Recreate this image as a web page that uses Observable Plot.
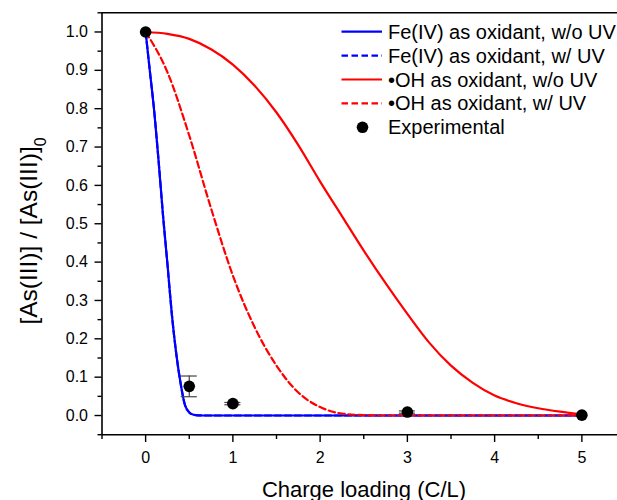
<!DOCTYPE html>
<html>
<head>
<meta charset="utf-8">
<script src="https://cdn.jsdelivr.net/npm/d3@7"></script>
<script src="https://cdn.jsdelivr.net/npm/@observablehq/plot@0.6"></script>
<style>
  html, body { margin: 0; padding: 0; background: #fff; }
  #chart { width: 617px; height: 500px; overflow: hidden; }
</style>
</head>
<body>
<div id="chart"></div>
<script>
// ---- Data ----
// Fe(IV) as oxidant (w/o UV and w/ UV overlap)
const feX = [0, 0.05, 0.1, 0.15, 0.2, 0.25, 0.3, 0.35, 0.4, 0.45, 0.5, 0.55, 0.6, 0.7, 1, 2, 3, 4, 5];
const feNoUV = [1, 0.895, 0.79, 0.66, 0.52, 0.395, 0.265, 0.163, 0.085, 0.028, 0.008, 0.002, 0.0005, 0, 0, 0, 0, 0, 0];
const feUV = [1, 0.895, 0.79, 0.66, 0.52, 0.395, 0.265, 0.163, 0.085, 0.028, 0.008, 0.002, 0.0005, 0, 0, 0, 0, 0, 0];

// •OH as oxidant, w/o UV
const ohNoUVX = [0, 0.25, 0.5, 0.75, 1, 1.25, 1.5, 1.75, 2, 2.25, 2.5, 2.75, 3, 3.25, 3.5, 3.75, 4, 4.25, 4.5, 4.75, 5];
const ohNoUV = [1, 0.995, 0.982, 0.955, 0.915, 0.86, 0.79, 0.705, 0.61, 0.52, 0.43, 0.345, 0.265, 0.19, 0.13, 0.085, 0.052, 0.032, 0.019, 0.01, 0.003];

// •OH as oxidant, w/ UV
const ohUVX = [0, 0.25, 0.5, 0.75, 1, 1.25, 1.5, 1.75, 2, 2.25, 2.5, 2.75, 3, 4, 5];
const ohUV = [1, 0.895, 0.73, 0.54, 0.365, 0.23, 0.13, 0.06, 0.022, 0.005, 0.001, 0, 0, 0, 0];

// Experimental points with error bars
const expX = [0, 0.5, 1, 3, 5];
const expY = [1, 0.076, 0.031, 0.009, 0.001];
const expErr = [0, 0.027, 0.003, 0.003, 0];

const xTicks = [0, 1, 2, 3, 4, 5];
const yTicks = [0, 0.1, 0.2, 0.3, 0.4, 0.5, 0.6, 0.7, 0.8, 0.9, 1.0];

const legendLabels = [
  "Fe(IV) as oxidant, w/o UV",
  "Fe(IV) as oxidant, w/ UV",
  "\u2022OH as oxidant, w/o UV",
  "\u2022OH as oxidant, w/ UV",
  "Experimental"
];

// ---- Build tables ----
const fe1 = feX.map((x, i) => ({x, y: feNoUV[i]}));
const fe2 = feX.map((x, i) => ({x, y: feUV[i]}));
const oh1 = ohNoUVX.map((x, i) => ({x, y: ohNoUV[i]}));
const oh2 = ohUVX.map((x, i) => ({x, y: ohUV[i]}));
const exp = expX.map((x, i) => ({x, y: expY[i], lo: expY[i] - expErr[i], hi: expY[i] + expErr[i], e: expErr[i]}));
const expErrs = exp.filter(d => d.e > 0);

const capHalf = 0.092; // half-width of the error bar caps in x units
const dash = "6.5,3.5";

const xMinor = d3.range(-0.5, 5.51, 0.5).filter(v => Math.abs(v - Math.round(v)) > 1e-6);
const yMinor = d3.range(-0.05, 1.051, 0.1);

const chart = Plot.plot({
  width: 617,
  height: 500,
  marginLeft: 101.5,
  marginRight: 0,
  marginTop: 12,
  marginBottom: 65,
  x: {domain: [-0.5, 5.5], range: [101.5, 625]},
  y: {domain: [-0.05, 1.05], range: [434.2, 12.3]},
  style: {fontFamily: "'Liberation Sans', Arial, sans-serif", fontSize: "16px", color: "#000", background: "#fff"},
  marks: [
    Plot.ruleY([1.05], {stroke: "#000", strokeWidth: 1.6}),
    Plot.ruleX([-0.5], {stroke: "#000", strokeWidth: 1.6}),
    Plot.ruleY([-0.05], {stroke: "#000", strokeWidth: 1.6}),
    Plot.axisX({ticks: xTicks, tickSize: 7, tickPadding: 9, tickFormat: d => String(d), label: null, strokeWidth: 1.4, fontSize: 16}),
    Plot.axisX({ticks: xMinor, tickSize: 4, text: null, label: null, strokeWidth: 1.4}),
    Plot.axisY({ticks: yTicks, tickSize: 7, tickPadding: 7, tickFormat: d3.format(".1f"), label: null, strokeWidth: 1.4, fontSize: 16}),
    Plot.axisY({ticks: yMinor, tickSize: 4, text: null, label: null, strokeWidth: 1.4}),
    Plot.line(fe1, {x: "x", y: "y", stroke: "#0000ff", strokeWidth: 2.2, curve: "monotone-x"}),
    Plot.line(fe2, {x: "x", y: "y", stroke: "#0000ff", strokeWidth: 2.2, strokeDasharray: dash, curve: "monotone-x"}),
    Plot.line(oh1, {x: "x", y: "y", stroke: "#ff0000", strokeWidth: 2.2, curve: "monotone-x"}),
    Plot.line(oh2, {x: "x", y: "y", stroke: "#ff0000", strokeWidth: 2.2, strokeDasharray: dash, curve: "monotone-x"}),
    Plot.ruleX(expErrs, {x: "x", y1: "lo", y2: "hi", stroke: "#444", strokeWidth: 1.2}),
    Plot.ruleY(expErrs, {y: "hi", x1: d => d.x - capHalf, x2: d => d.x + capHalf, stroke: "#444", strokeWidth: 1.2}),
    Plot.ruleY(expErrs, {y: "lo", x1: d => d.x - capHalf, x2: d => d.x + capHalf, stroke: "#444", strokeWidth: 1.2}),
    Plot.dot(exp, {x: "x", y: "y", r: 5.8, fill: "#000", stroke: "none"})
  ]
});

const svg = d3.select(chart);
svg.attr("overflow", "hidden");

// X axis title
svg.append("text")
  .attr("x", 364).attr("y", 497)
  .attr("text-anchor", "middle")
  .attr("font-size", 22)
  .attr("fill", "#000")
  .text("Charge loading (C/L)");

// Y axis title with subscript
const yt = svg.append("text")
  .attr("transform", "translate(37,231) rotate(-90)")
  .attr("text-anchor", "middle")
  .attr("font-size", 24.5)
  .attr("fill", "#000");
yt.append("tspan").text("[As(III)] / [As(III)]");
yt.append("tspan").attr("baseline-shift", "sub").attr("font-size", 16).text("0");

// Legend
const lg = svg.append("g").attr("font-size", 20).attr("fill", "#000").attr("text-anchor", "start");
const styles = [
  {stroke: "#0000ff", dash: null},
  {stroke: "#0000ff", dash: dash},
  {stroke: "#ff0000", dash: null},
  {stroke: "#ff0000", dash: dash},
  {dot: true}
];
legendLabels.forEach((label, i) => {
  const cy = 31.7 + i * 23.9;
  const s = styles[i];
  if (s.dot) {
    lg.append("circle").attr("cx", 362.5).attr("cy", cy).attr("r", 5.8).attr("fill", "#000");
  } else {
    lg.append("line").attr("x1", 341.5).attr("x2", 382).attr("y1", cy).attr("y2", cy)
      .attr("stroke", s.stroke).attr("stroke-width", 2.2)
      .attr("stroke-dasharray", s.dash);
  }
  lg.append("text").attr("x", 388).attr("y", cy).attr("dy", "0.35em").attr("text-anchor", "start").text(label);
});

document.getElementById("chart").appendChild(chart);
</script>
</body>
</html>
